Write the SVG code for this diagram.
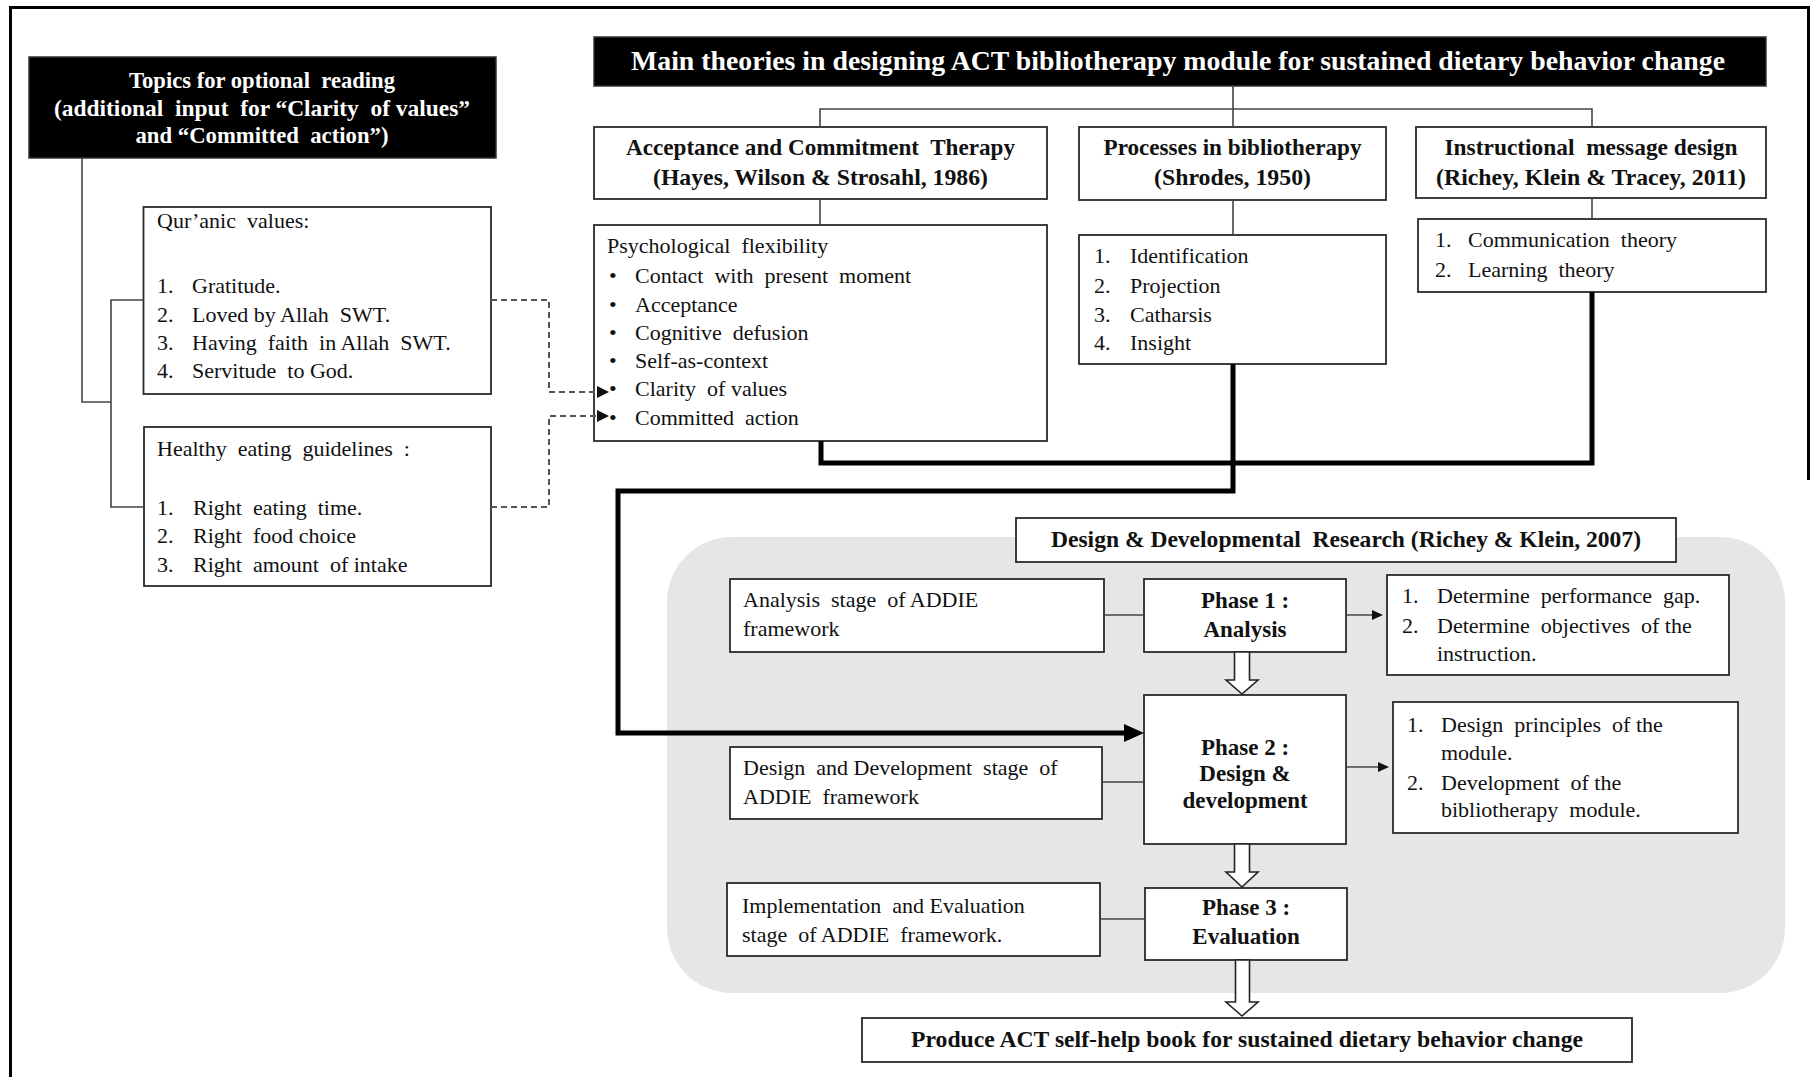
<svg xmlns="http://www.w3.org/2000/svg" width="1813" height="1077" viewBox="0 0 1813 1077">
<defs>
<style>
.box{fill:#fff;stroke:#2a2a2a;stroke-width:1.8}
.dark{fill:#000;stroke:#333;stroke-width:1.5}
.t{font-family:"Liberation Serif","Times New Roman",serif;font-size:22px;fill:#111;white-space:pre}
.b{font-weight:bold;font-size:23px}
.c{text-anchor:middle}
.w{fill:#fff}
.thin{fill:none;stroke:#444;stroke-width:1.6}
.thick{fill:none;stroke:#000;stroke-width:5}
.dash{fill:none;stroke:#555;stroke-width:2;stroke-dasharray:6 4}
.hollow{fill:#fff;stroke:#222;stroke-width:1.6}
</style>
</defs>
<rect width="1813" height="1077" fill="#fff"/>
<!-- outer frame -->
<path d="M10.5 1077 V7.5 H1808.5 V480" fill="none" stroke="#000" stroke-width="3"/>

<!-- shaded panel of the design & development research -->
<rect x="667" y="537" width="1118" height="456" rx="65" fill="#e6e6e6"/>

<g id="topics">
  <rect class="dark" x="29" y="57" width="467" height="101"/>
  <text class="t b c w" x="262" y="88" textLength="266" lengthAdjust="spacingAndGlyphs">Topics for optional  reading</text>
  <text class="t b c w" x="262" y="116" textLength="416" lengthAdjust="spacingAndGlyphs">(additional  input  for “Clarity  of values”</text>
  <text class="t b c w" x="262" y="143" textLength="253" lengthAdjust="spacingAndGlyphs">and “Committed  action”)</text>
</g>

<g id="quranic-values">
  <rect class="box" x="143.5" y="207" width="347.5" height="187"/>
  <text class="t" x="157" y="228">Qur’anic  values:</text>
  <text class="t" x="157" y="293">1.</text><text class="t" x="192" y="293">Gratitude.</text>
  <text class="t" x="157" y="322">2.</text><text class="t" x="192" y="322">Loved by Allah  SWT.</text>
  <text class="t" x="157" y="350">3.</text><text class="t" x="192" y="350">Having  faith  in Allah  SWT.</text>
  <text class="t" x="157" y="378">4.</text><text class="t" x="192" y="378">Servitude  to God.</text>
</g>

<g id="healthy-eating">
  <rect class="box" x="144" y="427" width="347" height="159"/>
  <text class="t" x="157" y="456">Healthy  eating  guidelines  :</text>
  <text class="t" x="157" y="515">1.</text><text class="t" x="193" y="515">Right  eating  time.</text>
  <text class="t" x="157" y="543">2.</text><text class="t" x="193" y="543">Right  food choice</text>
  <text class="t" x="157" y="572">3.</text><text class="t" x="193" y="572">Right  amount  of intake</text>
</g>

<g id="main-title">
  <rect class="dark" x="594" y="37" width="1172" height="49"/>
  <text class="t b c w" x="1178" y="70" style="font-size:27px" textLength="1094" lengthAdjust="spacingAndGlyphs">Main theories in designing ACT bibliotherapy module for sustained dietary behavior change</text>
</g>

<g id="act">
  <rect class="box" x="594" y="127" width="453" height="72"/>
  <text class="t b c" x="820.5" y="155" textLength="389" lengthAdjust="spacingAndGlyphs">Acceptance and Commitment  Therapy</text>
  <text class="t b c" x="820.5" y="185" textLength="335" lengthAdjust="spacingAndGlyphs">(Hayes, Wilson &amp; Strosahl, 1986)</text>
</g>

<g id="psychological-flexibility">
  <rect class="box" x="594" y="225" width="453" height="216"/>
  <text class="t" x="607" y="253">Psychological  flexibility</text>
  <text class="t" x="609" y="283">•</text><text class="t" x="635" y="283">Contact  with  present  moment</text>
  <text class="t" x="609" y="312">•</text><text class="t" x="635" y="312">Acceptance</text>
  <text class="t" x="609" y="340">•</text><text class="t" x="635" y="340">Cognitive  defusion</text>
  <text class="t" x="609" y="368">•</text><text class="t" x="635" y="368">Self-as-context</text>
  <text class="t" x="609" y="396">•</text><text class="t" x="635" y="396">Clarity  of values</text>
  <text class="t" x="609" y="425">•</text><text class="t" x="635" y="425">Committed  action</text>
</g>

<g id="bibliotherapy">
  <rect class="box" x="1079" y="127" width="307" height="73"/>
  <text class="t b c" x="1232.5" y="155" textLength="258" lengthAdjust="spacingAndGlyphs">Processes in bibliotherapy</text>
  <text class="t b c" x="1232.5" y="185" textLength="157" lengthAdjust="spacingAndGlyphs">(Shrodes, 1950)</text>
</g>

<g id="bibliotherapy-processes">
  <rect class="box" x="1079" y="235" width="307" height="129"/>
  <text class="t" x="1094" y="263">1.</text><text class="t" x="1130" y="263">Identification</text>
  <text class="t" x="1094" y="293">2.</text><text class="t" x="1130" y="293">Projection</text>
  <text class="t" x="1094" y="322">3.</text><text class="t" x="1130" y="322">Catharsis</text>
  <text class="t" x="1094" y="350">4.</text><text class="t" x="1130" y="350">Insight</text>
</g>

<g id="instructional-design">
  <rect class="box" x="1416" y="127" width="350" height="71"/>
  <text class="t b c" x="1591" y="155" textLength="293" lengthAdjust="spacingAndGlyphs">Instructional  message design</text>
  <text class="t b c" x="1591" y="185" textLength="310" lengthAdjust="spacingAndGlyphs">(Richey, Klein &amp; Tracey, 2011)</text>
</g>

<g id="instructional-theories">
  <rect class="box" x="1418" y="219" width="348" height="73"/>
  <text class="t" x="1435" y="247">1.</text><text class="t" x="1468" y="247">Communication  theory</text>
  <text class="t" x="1435" y="277">2.</text><text class="t" x="1468" y="277">Learning  theory</text>
</g>

<g id="ddr">
  <rect class="box" x="1016" y="518" width="660" height="44"/>
  <text class="t b c" x="1346" y="547" textLength="590" lengthAdjust="spacingAndGlyphs">Design &amp; Developmental  Research (Richey &amp; Klein, 2007)</text>
</g>

<g id="addie-analysis">
  <rect class="box" x="730" y="579" width="374" height="73"/>
  <text class="t" x="743" y="607">Analysis  stage  of ADDIE</text>
  <text class="t" x="743" y="636">framework</text>
</g>

<g id="phase-1">
  <rect class="box" x="1144" y="579" width="202" height="73"/>
  <text class="t b c" x="1245" y="608">Phase 1 :</text>
  <text class="t b c" x="1245" y="637">Analysis</text>
</g>

<g id="phase-1-outcomes">
  <rect class="box" x="1387" y="575" width="342" height="100"/>
  <text class="t" x="1402" y="603">1.</text><text class="t" x="1437" y="603">Determine  performance  gap.</text>
  <text class="t" x="1402" y="633">2.</text><text class="t" x="1437" y="633">Determine  objectives  of the</text>
  <text class="t" x="1437" y="661">instruction.</text>
</g>

<g id="addie-design">
  <rect class="box" x="730" y="747" width="372" height="72"/>
  <text class="t" x="743" y="775">Design  and Development  stage  of</text>
  <text class="t" x="743" y="804">ADDIE  framework</text>
</g>

<g id="phase-2">
  <rect class="box" x="1144" y="695" width="202" height="149"/>
  <text class="t b c" x="1245" y="755">Phase 2 :</text>
  <text class="t b c" x="1245" y="781">Design &amp;</text>
  <text class="t b c" x="1245" y="808">development</text>
</g>

<g id="phase-2-outcomes">
  <rect class="box" x="1393" y="702" width="345" height="131"/>
  <text class="t" x="1407" y="732">1.</text><text class="t" x="1441" y="732">Design  principles  of the</text>
  <text class="t" x="1441" y="760">module.</text>
  <text class="t" x="1407" y="790">2.</text><text class="t" x="1441" y="790">Development  of the</text>
  <text class="t" x="1441" y="817">bibliotherapy  module.</text>
</g>

<g id="addie-evaluation">
  <rect class="box" x="727" y="883" width="373" height="73"/>
  <text class="t" x="742" y="913">Implementation  and Evaluation</text>
  <text class="t" x="742" y="942">stage  of ADDIE  framework.</text>
</g>

<g id="phase-3">
  <rect class="box" x="1145" y="888" width="202" height="72"/>
  <text class="t b c" x="1246" y="915">Phase 3 :</text>
  <text class="t b c" x="1246" y="944">Evaluation</text>
</g>

<g id="self-help-book">
  <rect class="box" x="862" y="1018" width="770" height="44"/>
  <text class="t b c" x="1247" y="1047" textLength="672" lengthAdjust="spacingAndGlyphs">Produce ACT self-help book for sustained dietary behavior change</text>
</g>

<g id="connectors">
  <path class="thin" d="M1233 86 V127 M820 127 V109 H1592 V127"/>
  <path class="thin" d="M820 199 V225 M1233 200 V235 M1592 198 V219"/>
  <path class="thin" d="M82 158 V402 H111 M143 300 H111 V507 H143"/>
  <path class="dash" d="M491 300 H549 V392 H598"/>
  <path class="dash" d="M491 507 H549 V416 H598"/>
  <polygon points="597,386 609,392 597,398" fill="#111"/>
  <polygon points="597,410 609,416 597,422" fill="#111"/>
  <path class="thick" d="M821 441 V463 H1592 V292"/>
  <path class="thick" d="M1233 364 V491 H618 V733 H1126"/>
  <polygon points="1124,724 1144,733 1124,742" fill="#000"/>
  <path class="thin" d="M1104 615 H1144 M1102 782 H1144 M1100 919 H1145"/>
  <path class="thin" stroke="#111" d="M1346 615 H1374 M1346 767 H1380"/>
  <polygon points="1372,610 1383,615 1372,620" fill="#111"/>
  <polygon points="1378,762 1389,767 1378,772" fill="#111"/>
  <polygon class="hollow" points="1234.5,652 1249.5,652 1249.5,680 1258,680 1242,694 1226,680 1234.5,680"/>
  <polygon class="hollow" points="1234.5,844 1249.5,844 1249.5,872 1258,872 1242,887 1226,872 1234.5,872"/>
  <polygon class="hollow" points="1235.5,960 1249.5,960 1249.5,1002 1258,1002 1242,1016 1226,1002 1235.5,1002"/>
</g>
</svg>
